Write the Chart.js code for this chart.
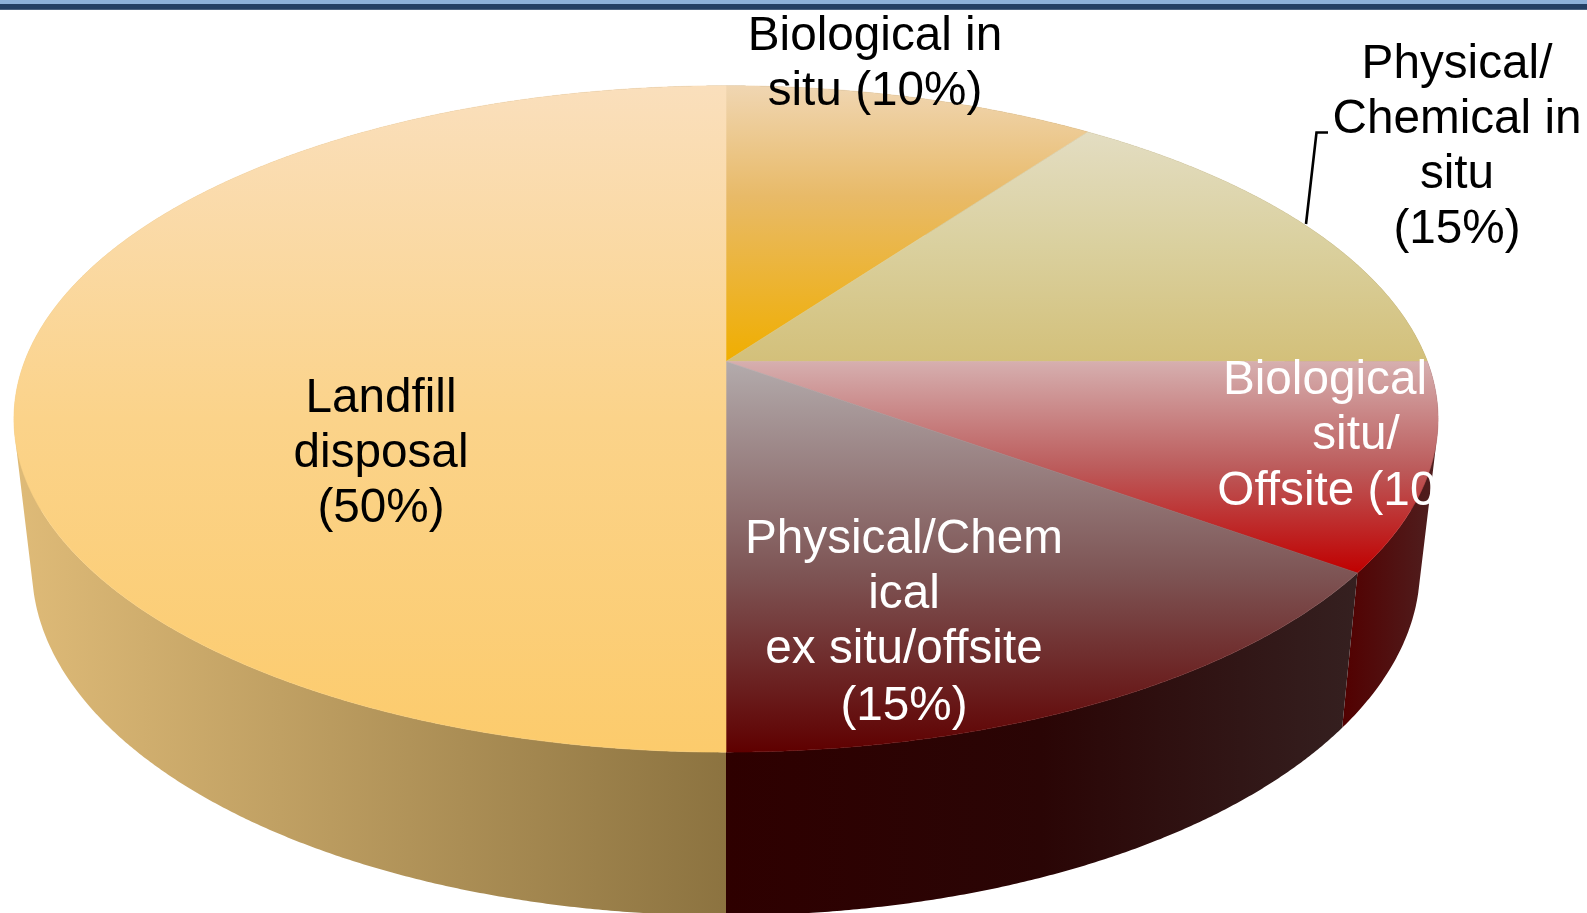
<!DOCTYPE html>
<html>
<head>
<meta charset="utf-8">
<title>Remediation methods</title>
<script src="https://cdn.jsdelivr.net/npm/chart.js@4/dist/chart.umd.js"></script>
<style>
html, body { margin: 0; padding: 0; background: #fff; overflow: hidden; }
canvas { display: block; }
</style>
</head>
<body>
<canvas id="myChart" width="1587" height="913"></canvas>
<script>
var categories = ['Biological in situ', 'Physical/Chemical in situ', 'Biological situ/Offsite', 'Physical/Chemical ex situ/offsite', 'Landfill disposal'];
var values = [10, 15, 10, 15, 50];

// text as it is broken on the slide
var labelLines = [
    ['Biological in', 'situ (10%)'],
    ['Physical/', 'Chemical in', 'situ', '(15%)'],
    ['Biological', 'situ/', 'Offsite (10%)'],
    ['Physical/Chem', 'ical', 'ex situ/offsite', '(15%)'],
    ['Landfill', 'disposal', '(50%)']
];
var labelX = [[875, 875], [1457, 1457, 1457, 1457], [1325, 1356, 1356], [904, 904, 904, 904], [381, 381, 381]];
var labelY = [[50, 105], [78, 133, 188, 243], [394, 449, 505], [553, 608, 663, 720], [412, 467, 522]];
var labelColors = ['#000', '#000', '#fff', '#fff', '#000'];

// top face, vertical gradient across each slice
var topStops = [
    [[0, '#f0d6b2'], [0.4, '#e8ba68'], [1, '#f0ae00']],
    [[0, '#e3ddc2'], [0.5, '#dad09e'], [1, '#d3c07a']],
    [[0, '#d6afaf'], [0.5, '#bc5c5c'], [1, '#c00000']],
    [[0, '#b3abac'], [0.54, '#7e5555'], [1, '#5f0000']],
    [[0, '#fadfbc'], [0.5, '#fbd38a'], [1, '#fccb6c']]
];
// side wall, horizontal gradient across each slice
var wallStops = [
    [[0, '#8c7340'], [1, '#8c7340']],
    [[0, '#8c7340'], [1, '#8c7340']],
    [[0, '#520000'], [1, '#4f2020']],
    [[0, '#2e0000'], [0.5, '#2a0505'], [1, '#352020']],
    [[0, '#dfbb78'], [1, '#8c7340']]
];

// perspective of the two rims of the disc
var topRim = { cx: 726, cy: 361.5, a: 701.4, b: 323.3, k: -0.1724 };
var lowRim = { cx: 726, cy: 507, a: 683.3, b: 337, k: -0.175 };

function project(rim, theta) {
    var u = Math.sin(theta), v = -Math.cos(theta);
    var w = 1 + rim.k * v;
    return { x: rim.cx + rim.a * u / w, y: rim.cy + rim.b * v / w };
}

function rimPoints(rim, arc) {
    var pts = [];
    var t0 = arc.startAngle + Math.PI / 2, t1 = arc.endAngle + Math.PI / 2;
    var n = Math.max(2, Math.ceil((t1 - t0) / 0.005));
    for (var i = 0; i <= n; i++) {
        pts.push(project(rim, t0 + (t1 - t0) * i / n));
    }
    return pts;
}

function makeGradient(ctx, x0, y0, x1, y1, stops) {
    var g = ctx.createLinearGradient(x0, y0, x1, y1);
    stops.forEach(function (s) { g.addColorStop(s[0], s[1]); });
    return g;
}

function bounds(pts) {
    var xs = pts.map(function (p) { return p.x; });
    var ys = pts.map(function (p) { return p.y; });
    return { x0: Math.min.apply(null, xs), x1: Math.max.apply(null, xs), y0: Math.min.apply(null, ys), y1: Math.max.apply(null, ys) };
}

function drawWall(ctx, arc, stops) {
    var up = rimPoints(topRim, arc), low = rimPoints(lowRim, arc);
    var box = bounds(up.concat(low));
    ctx.beginPath();
    for (var i = 0; i < up.length - 1; i++) {
        var q = [up[i], up[i + 1], low[i + 1], low[i]];
        var area = 0;
        for (var j = 0; j < 4; j++) {
            var p = q[j], r = q[(j + 1) % 4];
            area += p.x * r.y - r.x * p.y;
        }
        if (area < 0) q.reverse();
        ctx.moveTo(q[0].x, q[0].y);
        ctx.lineTo(q[1].x, q[1].y);
        ctx.lineTo(q[2].x, q[2].y);
        ctx.lineTo(q[3].x, q[3].y);
        ctx.closePath();
    }
    ctx.fillStyle = makeGradient(ctx, box.x0, 0, box.x1, 0, stops);
    ctx.fill('nonzero');
}

function drawTop(ctx, arc, stops) {
    var pts = rimPoints(topRim, arc);
    pts.push({ x: topRim.cx, y: topRim.cy });
    var box = bounds(pts);
    var g = makeGradient(ctx, 0, box.y0, 0, box.y1, stops);
    ctx.beginPath();
    pts.forEach(function (p, i) {
        if (i === 0) ctx.moveTo(p.x, p.y); else ctx.lineTo(p.x, p.y);
    });
    ctx.closePath();
    ctx.fillStyle = g;
    ctx.fill();
    ctx.strokeStyle = g;
    ctx.lineWidth = 0.6;
    ctx.stroke();
}

var disc3d = {
    id: 'disc3d',
    beforeDatasetsDraw: function (chart) {
        var ctx = chart.ctx;
        var arcs = chart.getDatasetMeta(0).data;
        ctx.save();
        arcs.forEach(function (arc, i) { drawWall(ctx, arc, wallStops[i]); });
        arcs.forEach(function (arc, i) { drawTop(ctx, arc, topStops[i]); });

        // band left over from the slide
        ctx.fillStyle = '#8db0d8';
        ctx.fillRect(0, 0, chart.width, 4);
        ctx.fillStyle = '#243f63';
        ctx.fillRect(0, 4, chart.width, 5);
        ctx.fillStyle = '#4c6280';
        ctx.fillRect(0, 9, chart.width, 1);

        // leader line
        ctx.strokeStyle = '#000';
        ctx.lineWidth = 2.6;
        ctx.beginPath();
        ctx.moveTo(1306, 224);
        ctx.lineTo(1316.5, 132.5);
        ctx.lineTo(1328, 132.5);
        ctx.stroke();

        ctx.font = '47.7px "Liberation Sans"';
        ctx.textAlign = 'center';
        ctx.textBaseline = 'alphabetic';
        labelLines.forEach(function (lines, i) {
            ctx.save();
            ctx.beginPath();
            ctx.rect(0, 0, i === 2 ? 1433 : chart.width, chart.height);
            ctx.clip();
            ctx.fillStyle = labelColors[i];
            lines.forEach(function (line, j) {
                ctx.fillText(line, labelX[i][j], labelY[i][j]);
            });
            ctx.restore();
        });
        ctx.restore();
        return false;
    }
};

var ctx = document.getElementById('myChart').getContext('2d');
var myChart = new Chart(ctx, {
    type: 'pie',
    data: {
        labels: categories,
        datasets: [{
            data: values,
            backgroundColor: ['#f0ae00', '#d3c07a', '#c00000', '#5f0000', '#fccb6c'],
            borderWidth: 0
        }]
    },
    options: {
        responsive: false,
        animation: false,
        plugins: {
            legend: { display: false },
            tooltip: { enabled: false }
        }
    },
    plugins: [disc3d]
});
</script>
</body>
</html>
